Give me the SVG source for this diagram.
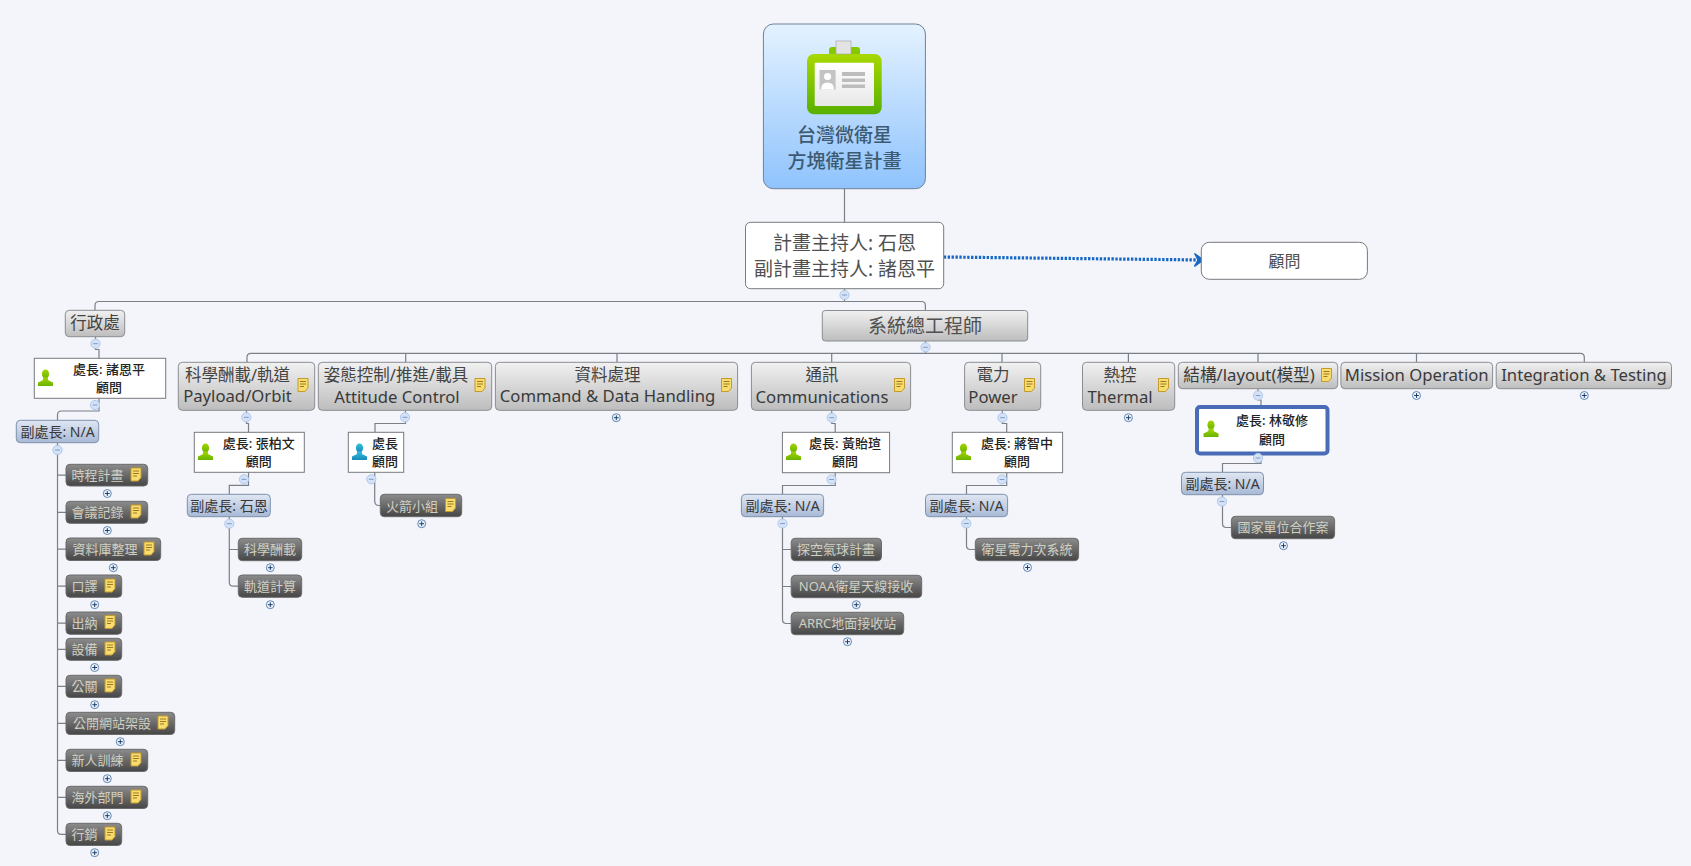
<svg xmlns="http://www.w3.org/2000/svg" width="1691" height="866" viewBox="0 0 1691 866">
<style>
text{font-family:"Noto Sans","Noto Sans CJK TC",sans-serif;text-anchor:middle}
.conn path{fill:none;stroke:#7b7f88;stroke-width:1.2}
.t{fill:url(#gT);stroke:#8a8d90;stroke-width:1}
.s{fill:url(#gS);stroke:#7f90ad;stroke-width:1}
.c{fill:url(#gC);stroke:#6b6b6b;stroke-width:1}
.w{fill:#fff;stroke:#77797e;stroke-width:1}
.tt{font-size:16.5px;fill:#444}
.tl{font-size:16.7px;fill:#3a3a3a}
.st{font-size:14px;fill:#383838}
.ct{font-size:13px;fill:#cfcfc2}
.wt{font-size:13px;fill:#222;font-weight:500}
.m{font-size:19px;fill:#505050}
.r{font-size:19px;fill:#3c5a72;font-weight:500}
</style>
<defs>
<linearGradient id="gR" x1="0" y1="0" x2="0" y2="1"><stop offset="0" stop-color="#e4f2ff"/><stop offset="1" stop-color="#8fc3fd"/></linearGradient>
<linearGradient id="gT" x1="0" y1="0" x2="0" y2="1"><stop offset="0" stop-color="#f1f1f1"/><stop offset="1" stop-color="#bdbdbd"/></linearGradient>
<linearGradient id="gS" x1="0" y1="0" x2="0" y2="1"><stop offset="0" stop-color="#e0e7f3"/><stop offset="1" stop-color="#a8b9d6"/></linearGradient>
<linearGradient id="gC" x1="0" y1="0" x2="0" y2="1"><stop offset="0" stop-color="#8c8c8c"/><stop offset="1" stop-color="#464646"/></linearGradient>
<linearGradient id="gB" x1="0" y1="0" x2="0" y2="1"><stop offset="0" stop-color="#a8d800"/><stop offset="1" stop-color="#58b000"/></linearGradient>
<linearGradient id="gCard" x1="0" y1="0" x2="0" y2="1"><stop offset="0" stop-color="#ffffff"/><stop offset="1" stop-color="#e8e8e8"/></linearGradient>
<linearGradient id="gP" x1="0" y1="0" x2="0" y2="1"><stop offset="0" stop-color="#a4d400"/><stop offset="1" stop-color="#68b400"/></linearGradient>
<linearGradient id="gQ" x1="0" y1="0" x2="0" y2="1"><stop offset="0" stop-color="#30c0e0"/><stop offset="1" stop-color="#1a88b8"/></linearGradient>
<g id="note"><path d="M-5,-6.5H5V3L2,6.5H-5Z" fill="#f8dc6e" stroke="#c49a2c" stroke-width="1"/><path d="M-3,-3.5H3M-3,-1H3M-3,1.5H1" stroke="#9a7a20" stroke-width="1" fill="none"/></g>
<g id="pg"><ellipse cx="0" cy="-4" rx="3.6" ry="4.6" fill="url(#gP)"/><path d="M-2.2,-0.5H2.2L2.8,2.2L7.5,4.6V8H-7.5V4.6L-2.8,2.2Z" fill="url(#gP)"/></g>
<g id="pb"><ellipse cx="0" cy="-4" rx="3.6" ry="4.6" fill="url(#gQ)"/><path d="M-2.2,-0.5H2.2L2.8,2.2L7.5,4.6V8H-7.5V4.6L-2.8,2.2Z" fill="url(#gQ)"/></g>
<g id="plus"><circle r="4" fill="#eef3fb" stroke="#5f86b4" stroke-width="1"/><path d="M-2.4,0H2.4M0,-2.4V2.4" stroke="#1f3f66" stroke-width="1"/></g>
<g id="minus"><circle r="4.6" fill="#d3e2f7" stroke="#b0c8ea" stroke-width="1"/><path d="M-2.4,0H2.4" stroke="#7f9cc4" stroke-width="1"/></g>
<marker id="arr" markerUnits="userSpaceOnUse" markerWidth="14" markerHeight="16" refX="11" refY="8" orient="auto"><path d="M2,1.5L11,8L2,14.5L5.5,8Z" fill="#1668c4" stroke="#1668c4" stroke-width="1.2"/></marker>
</defs>
<rect width="1691" height="866" fill="#f3f5fb"/>

<g id="connectors" class="conn">
<path d="M844.5,188.7V222.3M844.5,288.7V301.5"/>
<path d="M95,310.3V305.5Q95,301.5 99,301.5H921.5Q925.4,301.5 925.4,305.5V310.3"/>
<path d="M95.5,336.7V349.5H99V358.3M99,398.3V411H61.5Q57.5,411 57.5,415V420.3"/>
<path d="M57.5,442.7V830.5Q57.5,834.4 61.5,834.4H66M57.5,475.2H66M57.5,512.3H66M57.5,549.2H66M57.5,586.2H66M57.5,623.2H66M57.5,649.3H66M57.5,686.4H66M57.5,723.4H66M57.5,760.4H66M57.5,797.4H66"/>
<path d="M925.5,341V353.3"/>
<path d="M247,362.3V357.3Q247,353.3 251,353.3H1580.3Q1584.3,353.3 1584.3,357.3V362.3"/>
<path d="M405.7,353.3V362.3M617,353.3V362.3M831.7,353.3V362.3M1002,353.3V362.3M1128.4,353.3V362.3M1258,353.3V362.3M1416.5,353.3V362.3"/>
<path d="M246.5,410.3V423.5H248.5V432.3M248.5,472.3V485.3H229.3V494.3"/>
<path d="M229.3,516.7V582.2Q229.3,586.2 233.3,586.2H238.3M229.3,549.5H238.3"/>
<path d="M405.5,410.3V423.5H375V432.3M374.7,472.3V501Q374.7,505.5 379,505.5H380.3"/>
<path d="M831.7,410.3V423.5H835.2V432.3M835.2,472.7V485.5H782.5V494.3"/>
<path d="M782.5,516.7V619.5Q782.5,623.5 786.5,623.5H791.2M782.5,549.5H791.2M782.5,586.5H791.2"/>
<path d="M1002.3,410.3V423.5H1006.7V432.3M1006.7,472.7V485.5H966.5V494.3"/>
<path d="M966.5,516.7V545.5Q966.5,549.5 970.5,549.5H975.3"/>
<path d="M1258,388.7V400H1261V405M1261,455.3V463.5H1222.5V472.3"/>
<path d="M1222.5,494.7V523.5Q1222.5,527.5 1226.5,527.5H1231.4"/>
<path d="M943.75,257L1203.5,260" style="stroke:#1668c4;stroke-width:3.2;stroke-dasharray:2.4 1.5" marker-end="url(#arr)"/>
</g>

<g id="root">
<rect x="763.4" y="24" width="162" height="164.7" rx="10" fill="url(#gR)" stroke="#6f8096" stroke-width="1"/>
<path d="M829,54V50Q829,47 832,47H857Q860,47 860,50V54" fill="#86c800"/>
<rect x="807" y="54" width="74.7" height="60.3" rx="7" fill="url(#gB)"/>
<rect x="836" y="41" width="15" height="13" fill="#e3e3e3" stroke="#a8a8a8" stroke-width="0.7"/>
<rect x="814.7" y="62.7" width="59.3" height="43.3" rx="1" fill="url(#gCard)"/>
<rect x="819.6" y="70" width="16" height="19.5" fill="#c4c4c4"/>
<circle cx="827.6" cy="76.5" r="3.6" fill="#fff"/>
<path d="M821,89.5Q821,82.5 827.6,82.5Q834,82.5 834,89.5Z" fill="#fff"/>
<path d="M842,72H865V76H842ZM842,78.5H865V82H842ZM842,84.5H865V88H842Z" fill="#bcbcbc"/>
<text class="r" x="844.5" y="142">台灣微衛星</text>
<text class="r" x="844.5" y="168">方塊衛星計畫</text>
</g>
<g id="director"><rect x="745.5" y="222.3" width="198.2" height="66.4" rx="5" class="w"/><text class="m" x="844.5" y="249.5">計畫主持人: 石恩</text><text class="m" x="844.5" y="276">副計畫主持人: 諸恩平</text></g>
<g id="advisor"><rect x="1201.3" y="242.3" width="166.1" height="37" rx="8" class="w"/><text x="1284.5" y="266.5" style="font-size:16px;fill:#505050">顧問</text></g>
<g id="chief"><rect x="822.3" y="310.5" width="205.4" height="30.5" rx="3" class="t"/><text class="m" x="925" y="332.5">系統總工程師</text></g>

<g id="admin"><rect x="65.3" y="310.3" width="59.4" height="26.4" rx="4" class="t"/><text class="tt" x="95" y="329">行政處</text></g>
<g id="admin-head"><rect x="34.3" y="358.3" width="131.4" height="40" class="w"/><use href="#pg" x="45.5" y="378"/><text class="wt" x="109" y="374">處長: 諸恩平</text><text class="wt" x="109" y="392">顧問</text></g>
<g id="admin-dep"><rect x="16.3" y="420.3" width="82.4" height="22.4" rx="4" class="s"/><text class="st" x="57.5" y="436.5">副處長: N/A</text></g>
<g id="a1"><rect x="66" y="464.3" width="81.7" height="21.7" rx="4" class="c"/><text class="ct" x="97.5" y="480">時程計畫</text><use href="#note" x="136" y="474.5"/></g>
<g id="a2"><rect x="66" y="501.3" width="81.7" height="22" rx="4" class="c"/><text class="ct" x="97.5" y="517">會議記錄</text><use href="#note" x="136" y="511.5"/></g>
<g id="a3"><rect x="66" y="538" width="94.7" height="22.5" rx="4" class="c"/><text class="ct" x="105" y="554">資料庫整理</text><use href="#note" x="149" y="548.5"/></g>
<g id="a4"><rect x="66" y="575" width="55.7" height="22.3" rx="4" class="c"/><text class="ct" x="84.5" y="591">口譯</text><use href="#note" x="110" y="585.5"/></g>
<g id="a5"><rect x="66" y="612" width="55.7" height="22.3" rx="4" class="c"/><text class="ct" x="84.5" y="628">出納</text><use href="#note" x="110" y="622"/></g>
<g id="a6"><rect x="66" y="638.3" width="55.7" height="22" rx="4" class="c"/><text class="ct" x="84.5" y="654">設備</text><use href="#note" x="110" y="648.5"/></g>
<g id="a7"><rect x="66" y="675.3" width="55.7" height="22.2" rx="4" class="c"/><text class="ct" x="84.5" y="691">公關</text><use href="#note" x="110" y="685.5"/></g>
<g id="a8"><rect x="66" y="712.3" width="108.7" height="22.2" rx="4" class="c"/><text class="ct" x="112" y="728">公開網站架設</text><use href="#note" x="163" y="722.5"/></g>
<g id="a9"><rect x="66" y="749.3" width="81.7" height="22.2" rx="4" class="c"/><text class="ct" x="97.5" y="765">新人訓練</text><use href="#note" x="136" y="759.5"/></g>
<g id="a10"><rect x="66" y="786.3" width="81.7" height="22.2" rx="4" class="c"/><text class="ct" x="97.5" y="802">海外部門</text><use href="#note" x="136" y="796.5"/></g>
<g id="a11"><rect x="66" y="823.3" width="55.7" height="22.2" rx="4" class="c"/><text class="ct" x="84.5" y="839">行銷</text><use href="#note" x="110" y="833.5"/></g>

<g id="payload"><rect x="178.3" y="362.3" width="136.4" height="48" rx="4" class="t"/><text class="tt" x="237.5" y="381">科學酬載/軌道</text><text class="tl" x="237.5" y="402">Payload/Orbit</text><use href="#note" x="303" y="385"/></g>
<g id="payload-head"><rect x="194.3" y="432.3" width="110" height="40" class="w"/><use href="#pg" x="205.5" y="452"/><text class="wt" x="258.7" y="448">處長: 張柏文</text><text class="wt" x="258.7" y="466">顧問</text></g>
<g id="payload-dep"><rect x="187.3" y="494.3" width="83" height="22.4" rx="4" class="s"/><text class="st" x="229" y="510.5">副處長: 石恩</text></g>
<g id="p1"><rect x="238.3" y="538.3" width="63.4" height="22.4" rx="4" class="c"/><text class="ct" x="270" y="554">科學酬載</text></g>
<g id="p2"><rect x="238.3" y="575" width="63.4" height="22.3" rx="4" class="c"/><text class="ct" x="270" y="591">軌道計算</text></g>

<g id="attitude"><rect x="318.3" y="362.3" width="173.4" height="48" rx="4" class="t"/><text class="tt" x="396" y="381">姿態控制/推進/載具</text><text class="tl" x="397" y="403">Attitude Control</text><use href="#note" x="480" y="385"/></g>
<g id="attitude-head"><rect x="348.3" y="432.3" width="55.4" height="40" class="w"/><use href="#pb" x="359.5" y="452"/><text class="wt" x="385" y="448">處長</text><text class="wt" x="385" y="466">顧問</text></g>
<g id="rocket"><rect x="380.3" y="494.3" width="81.4" height="22.4" rx="4" class="c"/><text class="ct" x="412" y="510.5">火箭小組</text><use href="#note" x="450.5" y="505"/></g>

<g id="cdh"><rect x="495.4" y="362.3" width="242.2" height="48" rx="4" class="t"/><text class="tt" x="607.5" y="381">資料處理</text><text class="tl" x="607.5" y="402">Command &amp; Data Handling</text><use href="#note" x="726.5" y="385"/></g>

<g id="comm"><rect x="751.4" y="362.3" width="159.2" height="48" rx="4" class="t"/><text class="tt" x="822" y="381">通訊</text><text class="tl" x="822" y="403">Communications</text><use href="#note" x="899.5" y="385"/></g>
<g id="comm-head"><rect x="782.4" y="432.3" width="107.2" height="40.4" class="w"/><use href="#pg" x="793.5" y="452"/><text class="wt" x="845" y="448">處長: 黃貽瑄</text><text class="wt" x="845" y="466">顧問</text></g>
<g id="comm-dep"><rect x="741.4" y="494.3" width="82.2" height="22.4" rx="4" class="s"/><text class="st" x="782.5" y="510.5">副處長: N/A</text></g>
<g id="c1"><rect x="791.2" y="538.3" width="90.3" height="22.4" rx="4" class="c"/><text class="ct" x="836" y="554">探空氣球計畫</text></g>
<g id="c2"><rect x="791.2" y="575.3" width="130.5" height="22.4" rx="4" class="c"/><text class="ct" x="856" y="591">NOAA衛星天線接收</text></g>
<g id="c3"><rect x="791.2" y="612.3" width="112.5" height="22.4" rx="4" class="c"/><text class="ct" x="847.5" y="628">ARRC地面接收站</text></g>

<g id="power"><rect x="964.6" y="362.3" width="76.1" height="48" rx="4" class="t"/><text class="tt" x="993" y="381">電力</text><text class="tl" x="993" y="403">Power</text><use href="#note" x="1029.5" y="385"/></g>
<g id="power-head"><rect x="952.3" y="432.3" width="110.3" height="40.4" class="w"/><use href="#pg" x="963.5" y="452"/><text class="wt" x="1017" y="448">處長: 蔣智中</text><text class="wt" x="1017" y="466">顧問</text></g>
<g id="power-dep"><rect x="925.5" y="494.3" width="82.1" height="22.4" rx="4" class="s"/><text class="st" x="966.5" y="510.5">副處長: N/A</text></g>
<g id="w1"><rect x="975.3" y="538.3" width="103.3" height="22.4" rx="4" class="c"/><text class="ct" x="1027" y="554">衛星電力次系統</text></g>

<g id="thermal"><rect x="1082.5" y="362.3" width="92.2" height="48" rx="4" class="t"/><text class="tt" x="1120" y="381">熱控</text><text class="tl" x="1120" y="403">Thermal</text><use href="#note" x="1163.5" y="385"/></g>

<g id="structure"><rect x="1178.3" y="362.3" width="159.4" height="26.4" rx="4" class="t"/><text class="tl" x="1249" y="381">結構/layout(模型)</text><use href="#note" x="1326.5" y="375"/></g>
<g id="structure-head"><rect x="1197" y="407" width="130.5" height="46.5" rx="3" fill="#fff" stroke="#4a6cb6" stroke-width="4"/><use href="#pg" x="1211" y="429"/><text class="wt" x="1272" y="425">處長: 林敬修</text><text class="wt" x="1272" y="444">顧問</text></g>
<g id="structure-dep"><rect x="1181.5" y="472.3" width="82" height="22.4" rx="4" class="s"/><text class="st" x="1222.5" y="488.5">副處長: N/A</text></g>
<g id="s1"><rect x="1231.4" y="516.3" width="103.2" height="22.4" rx="4" class="c"/><text class="ct" x="1283" y="532">國家單位合作案</text></g>

<g id="mission"><rect x="1340.9" y="362.3" width="151.7" height="26.4" rx="4" class="t"/><text class="tl" x="1416.7" y="381">Mission Operation</text></g>
<g id="integration"><rect x="1496.2" y="362.3" width="175.3" height="26.4" rx="4" class="t"/><text class="tl" x="1584" y="381">Integration &amp; Testing</text></g>

<g id="toggles">
<use href="#minus" x="844.5" y="295"/><use href="#minus" x="925.5" y="347.3"/>
<use href="#minus" x="95.5" y="343.7"/><use href="#minus" x="95" y="405"/><use href="#minus" x="57.5" y="450"/>
<use href="#plus" x="107.3" y="493.5"/><use href="#plus" x="107.3" y="530.5"/><use href="#plus" x="113.3" y="567.7"/><use href="#plus" x="94.7" y="604.7"/><use href="#plus" x="94.7" y="667.5"/><use href="#plus" x="94.7" y="704.7"/><use href="#plus" x="120.3" y="741.7"/><use href="#plus" x="107.3" y="778.7"/><use href="#plus" x="107.3" y="815.7"/><use href="#plus" x="94.7" y="852.7"/>
<use href="#minus" x="246.3" y="417.3"/><use href="#minus" x="244" y="479.3"/><use href="#minus" x="229.3" y="523.7"/>
<use href="#plus" x="270.3" y="567.7"/><use href="#plus" x="270.3" y="604.7"/>
<use href="#minus" x="405" y="417.3"/><use href="#minus" x="371.3" y="479.3"/><use href="#plus" x="421.7" y="523.7"/>
<use href="#plus" x="616.3" y="417.7"/>
<use href="#minus" x="831.7" y="417.7"/><use href="#minus" x="831.5" y="479.5"/><use href="#minus" x="782.5" y="523.5"/>
<use href="#plus" x="836.3" y="567.5"/><use href="#plus" x="856.3" y="604.7"/><use href="#plus" x="847.5" y="641.7"/>
<use href="#minus" x="1002.5" y="417.7"/><use href="#minus" x="1002" y="479.5"/><use href="#minus" x="966.3" y="523.5"/><use href="#plus" x="1027.5" y="567.5"/>
<use href="#plus" x="1128.4" y="417.7"/>
<use href="#minus" x="1258" y="395.5"/><use href="#minus" x="1258" y="458"/><use href="#minus" x="1222" y="501.5"/><use href="#plus" x="1283.5" y="545.7"/>
<use href="#plus" x="1416.5" y="395.5"/><use href="#plus" x="1584.3" y="395.5"/>
</g>
</svg>
